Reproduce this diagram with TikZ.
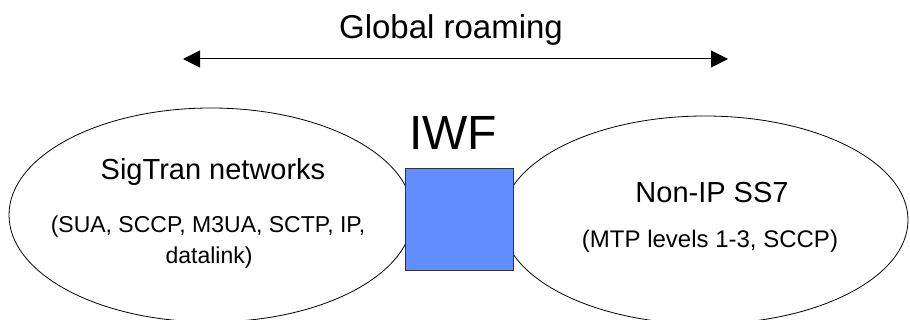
\documentclass[tikz,border=0pt]{standalone}
\usepackage{fontspec}
\setmainfont{Liberation Sans}
\usetikzlibrary{shapes.geometric,arrows.meta}
\definecolor{iwfblue}{RGB}{96,141,255}
\begin{document}
\begin{tikzpicture}[x=1pt,y=-1pt,
  net/.style={draw=black,line width=0.8pt,ellipse,inner sep=0pt},
  lbl/.style={anchor=base,inner sep=0pt,text=black},
  iwfbox/.style={draw=black!80,fill=iwfblue,line width=0.8pt,inner sep=0pt,minimum width=108pt,minimum height=102pt},
  tip/.style={Triangle[length=17pt,width=17pt]}]
\useasboundingbox (0,0) rectangle (910,320);
\node[net,minimum width=404pt,minimum height=214pt] (sig) at (211,215) {};
\node[net,minimum width=406pt,minimum height=208pt] (ss7) at (705,220) {};
\node[iwfbox] (iwf) at (459,219) {};
\node[lbl,font=\fontsize{48}{50}\selectfont] (iwft) at (453,150) {IWF};
\node[lbl,font=\fontsize{33}{36}\selectfont] (glob) at (451,39) {Global roaming};
\coordinate (al) at (183,59);
\coordinate (ar) at (728,59);
\draw[line width=1pt,{Triangle[length=17pt,width=17pt]}-{Triangle[length=17pt,width=17pt]}] (al) -- (ar);
\node[lbl,font=\fontsize{29}{32}\selectfont] (s1) at (213,180) {SigTran networks};
\node[lbl,font=\fontsize{23}{26}\selectfont] (s2) at (208,233) {(SUA, SCCP, M3UA, SCTP, IP,};
\node[lbl,font=\fontsize{23}{26}\selectfont] (s3) at (209,264) {datalink)};
\node[lbl,font=\fontsize{29}{32}\selectfont] (n1) at (712,203) {Non-IP SS7};
\node[lbl,font=\fontsize{24}{26}\selectfont] (n2) at (710,248) {(MTP levels 1-3, SCCP)};
\end{tikzpicture}
\end{document}
